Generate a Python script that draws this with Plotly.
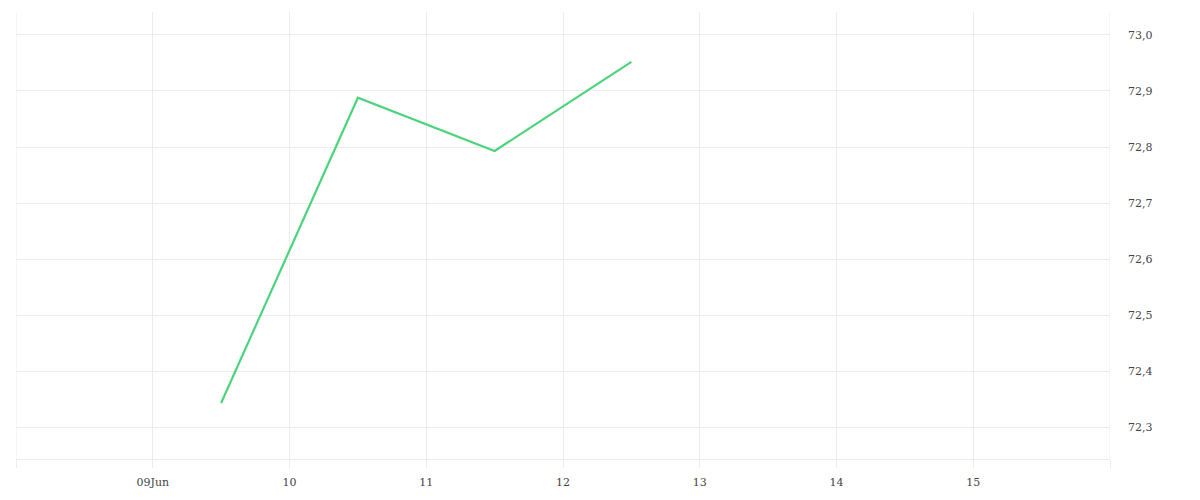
import plotly.graph_objects as go

dates = ["2024-06-09 12:00", "2024-06-10 12:00", "2024-06-11 12:00", "2024-06-12 12:00"]
values = [72.343, 72.888, 72.793, 72.952]
tick_dates = ["2024-06-08", "2024-06-09", "2024-06-10", "2024-06-11", "2024-06-12",
              "2024-06-13", "2024-06-14", "2024-06-15", "2024-06-16"]
tick_labels = ["", "09Jun", "10", "11", "12", "13", "14", "15", ""]
y_ticks = [72.3, 72.4, 72.5, 72.6, 72.7, 72.8, 72.9, 73.0]
x_start, x_end = "2024-06-08", "2024-06-16"

fig = go.Figure()
fig.add_trace(go.Scatter(x=dates, y=values, mode="lines",
                         line=dict(color="#4cd47c", width=2.2), hoverinfo="x+y"))

grid = "#ececec"
for xv in (x_start, x_end):
    fig.add_shape(type="line", xref="x", yref="paper", x0=xv, x1=xv, y0=0, y1=1,
                  line=dict(color=grid, width=1), layer="below")

fig.update_layout(
    width=1192, height=492,
    margin=dict(l=8, r=90, t=4, b=41),
    paper_bgcolor="white", plot_bgcolor="white",
    separators=",.",
    showlegend=False,
    font=dict(family="DejaVu Serif", size=11, color="#444444"),
    xaxis=dict(
        type="date",
        range=[x_start, x_end],
        tickvals=tick_dates, ticktext=tick_labels,
        showgrid=True, gridcolor=grid, gridwidth=1,
        ticks="outside", ticklen=8, tickcolor=grid, tickwidth=1,
        ticklabelstandoff=5,
        showline=True, linecolor=grid, linewidth=1,
        zeroline=False,
    ),
    yaxis=dict(
        side="right",
        range=[72.243, 73.041],
        tickvals=y_ticks, tickformat=".1f",
        showgrid=True, gridcolor=grid, gridwidth=1,
        ticks="", ticklabelstandoff=17,
        zeroline=False, showline=False,
    ),
)

fig.write_html("out.html")
